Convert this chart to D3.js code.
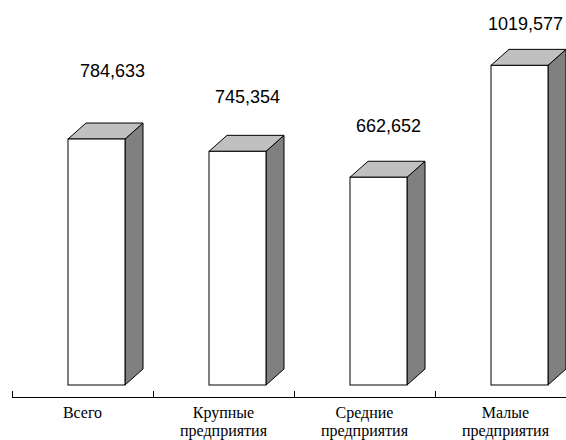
<!DOCTYPE html>
<html>
<head>
<meta charset="utf-8">
<script src="https://cdnjs.cloudflare.com/ajax/libs/d3/7.8.5/d3.min.js"></script>
<style>
  body { margin: 0; background: #fff; }
  .cat { font-family: "Liberation Serif", "Times New Roman", Times, serif; font-size: 16px; }
  .val { font-family: "Liberation Sans", Arial, sans-serif; font-size: 18px; }
</style>
</head>
<body>
<div id="chart"></div>
<script>
// Data
var categories = ["Всего", "Крупные предприятия", "Средние предприятия", "Малые предприятия"];
var values = [784633, 745354, 662652, 1019577];
var valueLabels = ["784,633", "745,354", "662,652", "1019,577"];

// Label nudges (px), the labels in the original sit where they were dragged
var labelDx = [16, 10, 10, 6];
var labelDy = [-62, -48, -45, -35];

var width = 566, height = 440;
var depthX = 18, depthY = 16;   // 3D depth of each column
var frontW = 57, frontOff = 56; // front face width and offset inside its band
var axisY = 397;

var svg = d3.select("#chart")
  .append("svg")
    .attr("width", width)
    .attr("height", height);

// Scales
var x = d3.scaleBand()
    .domain(categories)
    .range([12, 12 + 141 * categories.length])
    .padding(0);

var y = d3.scaleLinear()
    .domain([0, 1200000])
    .range([385, 385 - 1200000 * 3.135e-4]);

// Category axis: line and ticks at the band edges
svg.append("line")
    .attr("x1", x.range()[0]).attr("x2", width)
    .attr("y1", axisY + 0.5).attr("y2", axisY + 0.5)
    .attr("stroke", "#000")
    .attr("stroke-width", 1);

svg.selectAll(".tick")
  .data(categories)
  .enter().append("line")
    .attr("class", "tick")
    .attr("x1", function(d) { return x(d) + 0.5; })
    .attr("x2", function(d) { return x(d) + 0.5; })
    .attr("y1", axisY - 6)
    .attr("y2", axisY)
    .attr("stroke", "#000")
    .attr("stroke-width", 1);

// Category labels (wrapped on the space)
var catText = svg.selectAll(".cat")
  .data(categories)
  .enter().append("text")
    .attr("class", "cat")
    .attr("x", function(d) { return x(d) + x.bandwidth() / 2; })
    .attr("y", 418)
    .attr("text-anchor", "middle")
    .style("fill", "#000");

catText.each(function(d) {
  var t = d3.select(this);
  d.split(" ").forEach(function(w, i) {
    t.append("tspan")
      .attr("x", t.attr("x"))
      .attr("dy", i === 0 ? 0 : 18)
      .text(w);
  });
});

// Columns
var bars = svg.selectAll(".bar")
  .data(values)
  .enter().append("g")
    .attr("class", "bar");

bars.each(function(v, i) {
  var g = d3.select(this);
  var x0 = x(categories[i]) + frontOff,
      x1 = x0 + frontW,
      y0 = y(v),
      yb = y(0);

  // side face
  g.append("path")
    .attr("d", "M" + x1 + "," + y0 + "L" + (x1 + depthX) + "," + (y0 - depthY) +
               "L" + (x1 + depthX) + "," + (yb - depthY) + "L" + x1 + "," + yb + "Z")
    .attr("fill", "#808080")
    .attr("stroke", "#000")
    .attr("stroke-width", 1)
    .attr("stroke-linejoin", "round");

  // top face
  g.append("path")
    .attr("d", "M" + x0 + "," + y0 + "L" + (x0 + depthX) + "," + (y0 - depthY) +
               "L" + (x1 + depthX) + "," + (y0 - depthY) + "L" + x1 + "," + y0 + "Z")
    .attr("fill", "#c0c0c0")
    .attr("stroke", "#000")
    .attr("stroke-width", 1)
    .attr("stroke-linejoin", "round");

  // front face
  g.append("rect")
    .attr("x", x0)
    .attr("y", y0)
    .attr("width", frontW)
    .attr("height", yb - y0)
    .attr("fill", "#fff")
    .attr("stroke", "#000")
    .attr("stroke-width", 1);
});

// Value labels
svg.selectAll(".val")
  .data(values)
  .enter().append("text")
    .attr("class", "val")
    .attr("x", function(d, i) { return x(categories[i]) + frontOff + frontW / 2 + labelDx[i]; })
    .attr("y", function(d, i) { return y(d) + labelDy[i]; })
    .attr("text-anchor", "middle")
    .style("fill", "#000")
    .text(function(d, i) { return valueLabels[i]; });
</script>
</body>
</html>
